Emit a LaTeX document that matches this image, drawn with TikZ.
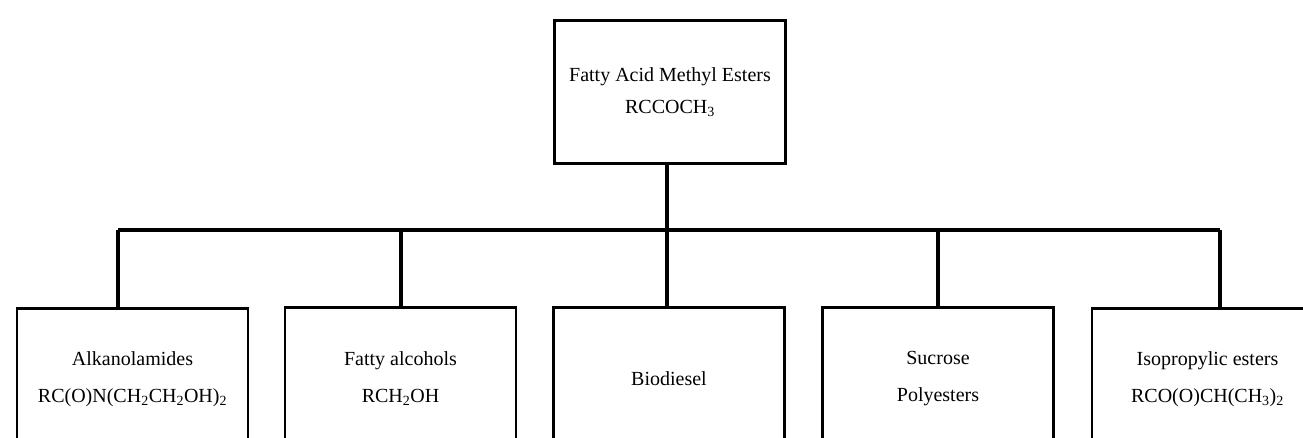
\documentclass[tikz,border=0pt]{standalone}
\usepackage{fontspec}
\setmainfont{Liberation Serif}
\begin{document}
\begin{tikzpicture}[x=1pt,y=-1pt,
  box/.style={draw,line width=2.6pt,minimum width=231pt,align=center,inner sep=0pt,
    font=\fontsize{20}{37}\selectfont},
  conn/.style={line width=3.4pt}]
\useasboundingbox (0,0) rectangle (1303,437);
\clip (0,0) rectangle (1303,437);
\node[box,minimum height=143pt,font=\fontsize{20}{32}\selectfont] (top) at (670,92) {Fatty Acid Methyl Esters\\RCCOCH\textsubscript{3}};
\node[box,minimum height=142pt,anchor=north] (b1) at (132.5,307) {Alkanolamides\\RC(O)N(CH\textsubscript{2}CH\textsubscript{2}OH)\textsubscript{2}};
\node[box,minimum height=142pt,anchor=north] (b2) at (400.5,306) {Fatty alcohols\\RCH\textsubscript{2}OH};
\node[box,minimum height=142pt,anchor=north] (b3) at (669,306) {Biodiesel};
\node[box,minimum height=142pt,anchor=north] (b4) at (938,306) {Sucrose\\Polyesters};
\node[box,minimum height=142pt,anchor=north] (b5) at (1207.5,307) {Isopropylic esters\\RCO(O)CH(CH\textsubscript{3})\textsubscript{2}};
\coordinate (c1) at (118,230);
\coordinate (c2) at (401,230);
\coordinate (c3) at (667,230);
\coordinate (c4) at (938,230);
\coordinate (c5) at (1220,230);
\draw[conn] (top.south -| c3) -- (c3);
\draw[conn] (c1) -- (c5);
\draw[conn] (c1) -- (c1 |- b1.north);
\draw[conn] (c2) -- (c2 |- b2.north);
\draw[conn] (c3) -- (c3 |- b3.north);
\draw[conn] (c4) -- (c4 |- b4.north);
\draw[conn] (c5) -- (c5 |- b5.north);
\end{tikzpicture}
\end{document}
